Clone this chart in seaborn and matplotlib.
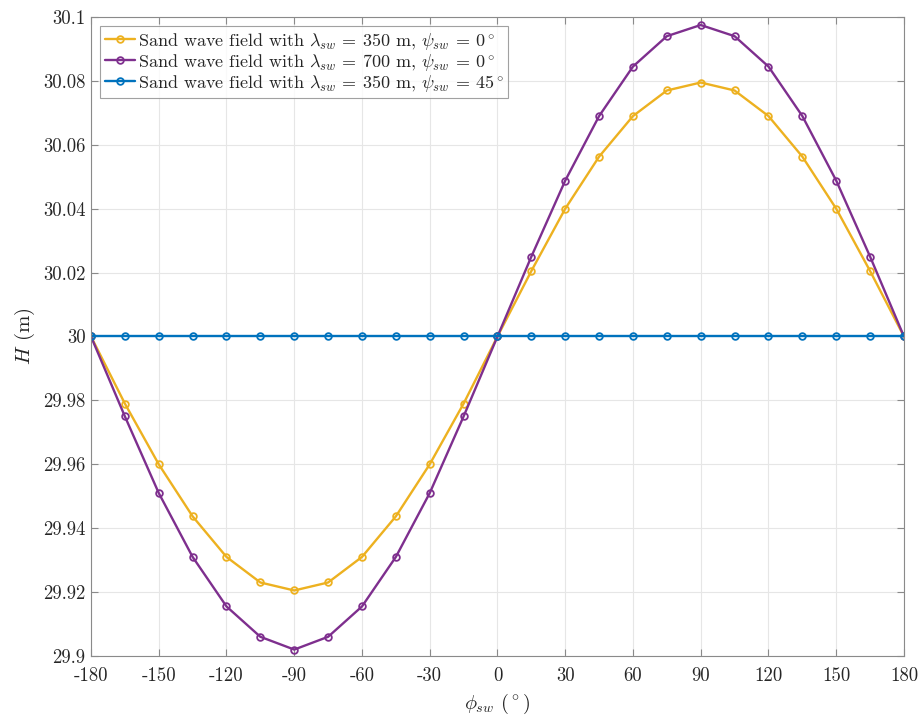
import numpy as np
import pandas as pd
import seaborn as sns
import matplotlib.pyplot as plt

# ==============================
# DATA
# ==============================

phi = [-180, -165, -150, -135, -120, -105, -90, -75, -60, -45, -30, -15,
       0, 15, 30, 45, 60, 75, 90, 105, 120, 135, 150, 165, 180]

h_350_0 = [30.0, 29.979, 29.960, 29.9437, 29.931, 29.923, 29.9205, 29.923, 29.931, 29.9437, 29.960, 29.979,
           30.0, 30.0205, 30.040, 30.0563, 30.069, 30.077, 30.0795, 30.077, 30.069, 30.0563, 30.040, 30.0205, 30.0]
h_700_0 = [30.0, 29.975, 29.951, 29.931, 29.9155, 29.906, 29.902, 29.906, 29.9155, 29.931, 29.951, 29.975,
           30.0, 30.025, 30.0488, 30.069, 30.0845, 30.094, 30.0975, 30.094, 30.0845, 30.069, 30.0488, 30.025, 30.0]
h_350_45 = [30.0] * 25

labels = [
    r"Sand wave field with $\lambda_{sw}$ = 350 m, $\psi_{sw}$ = 0$^\circ$",
    r"Sand wave field with $\lambda_{sw}$ = 700 m, $\psi_{sw}$ = 0$^\circ$",
    r"Sand wave field with $\lambda_{sw}$ = 350 m, $\psi_{sw}$ = 45$^\circ$",
]
colors = ["#EDB120", "#7E2F8E", "#0072BD"]

xticks = [-180, -150, -120, -90, -60, -30, 0, 30, 60, 90, 120, 150, 180]
xtick_labels = ["-180", "-150", "-120", "-90", "-60", "-30", "0", "30", "60", "90", "120", "150", "180"]
yticks = [29.9, 29.92, 29.94, 29.96, 29.98, 30.0, 30.02, 30.04, 30.06, 30.08, 30.1]
ytick_labels = ["29.9", "29.92", "29.94", "29.96", "29.98", "30", "30.02", "30.04", "30.06", "30.08", "30.1"]

# ==============================
# PLOT
# ==============================

sns.set_theme(style="white")
plt.rcParams["font.family"] = ["cmr10", "DejaVu Serif"]
plt.rcParams["mathtext.fontset"] = "cm"
plt.rcParams["axes.unicode_minus"] = False
plt.rcParams["axes.formatter.use_mathtext"] = True

fig = plt.figure(figsize=(9.21, 7.18), dpi=100)
ax = fig.add_axes([0.0988, 0.0864, 0.8827, 0.8899])

for y, lab, c in zip([h_350_0, h_700_0, h_350_45], labels, colors):
    df = pd.DataFrame({"phi": phi, "H": y})
    sns.lineplot(data=df, x="phi", y="H", ax=ax, color=c, label=lab, lw=1.7,
                 marker="o", markersize=4.8, markerfacecolor="none",
                 markeredgecolor=c, markeredgewidth=1.3)

ax.set_xlim(-180, 180)
ax.set_ylim(29.9, 30.1)
ax.set_xticks(xticks, labels=xtick_labels)
ax.set_yticks(yticks, labels=ytick_labels)
ax.tick_params(direction="in", length=5, width=0.8, color="#8a8a8a",
               labelsize=13.5, labelcolor="#262626", top=True, right=True,
               bottom=True, left=True, pad=4)
ax.tick_params(axis="x", pad=8)
ax.grid(True, color="#e6e6e6", lw=0.8)
for s in ax.spines.values():
    s.set_color("#8a8a8a")
    s.set_linewidth(0.8)

ax.set_xlabel(r"$\phi_{sw}$ ($^\circ$)", fontsize=14.5, color="#262626", labelpad=5)
ax.set_ylabel(r"$H$ (m)", fontsize=15, color="#262626", labelpad=4)

leg = ax.legend(loc="upper left", fontsize=13, frameon=True, fancybox=False,
                borderaxespad=0.5, handlelength=1.7, handletextpad=0.15,
                labelspacing=0.0, borderpad=0.25)
leg.get_frame().set_edgecolor("#8a8a8a")
leg.get_frame().set_linewidth(0.8)

plt.savefig("out.png", dpi=100)
